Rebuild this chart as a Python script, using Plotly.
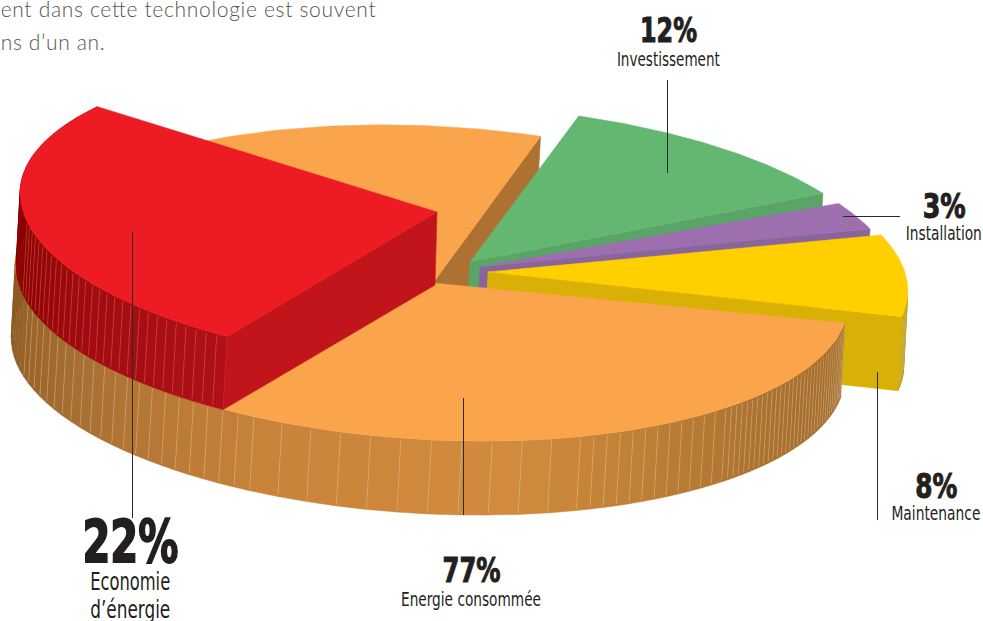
import json
import math
import plotly.graph_objects as go

# ---- data
categories = ["Investissement", "Installation", "Maintenance", "Energie consommée"]
shares = [12, 3, 8, 77]
saving_lines = ["Economie", "d’énergie"]
saving_share = 22
intro_lines = ["ent dans cette technologie est souvent", "ns d’un an."]

# ---- projection of the pie disc (pixel frame of the 983x621 page)
RX, SHEAR, RY = 422, 19, 157
START = -75.0
RED_END = 120.2
RED_STRETCH = 95.3 / 79.2
DROP_SKEW = 0.055          # walls lean slightly left as they go down

def pt(apex, th, r=1.0, drop=0, ry=None, left=1.0):
    c, s = math.cos(math.radians(th)), math.sin(math.radians(th))
    ry = r if ry is None else ry
    xf = left if c < 0 else 1.0
    return (apex[0] + r * xf * RX * c - drop * DROP_SKEW,
            apex[1] + ry * (SHEAR * c + RY * s) + drop)

def arc(apex, a, b, r=1.0, drop=0, n=80, ry=None, left=1.0):
    return [pt(apex, a + (b - a) * i / n, r, drop, ry, left) for i in range(n + 1)]

fig = go.Figure()

def poly(points, color, line=None):
    fig.add_trace(go.Scatter(
        x=[p[0] for p in points] + [points[0][0]],
        y=[p[1] for p in points] + [points[0][1]],
        mode="lines", fill="toself", fillcolor=color,
        line=dict(color=line or color, width=0.5),
        hoverinfo="skip", showlegend=False))

def lerp_col(stops, t):
    for (t0, c0), (t1, c1) in zip(stops, stops[1:]):
        if t <= t1:
            f = (t - t0) / (t1 - t0)
            return "rgb(%d,%d,%d)" % tuple(c0[i] + (c1[i] - c0[i]) * f for i in range(3))
    return "rgb(%d,%d,%d)" % stops[-1][1]

def wall(apex, a, b, r, depth, stops, seam, step, seam_op=0.45, seam_limit=999, ry=None, left=1.0):
    sx, sy = [], []
    t0 = a
    while t0 < b - 1e-6:
        t1 = min(b, t0 + step(t0))
        top = arc(apex, t0, t1, r, 0, 2, ry, left)
        bot = arc(apex, t1, t0, r, depth, 2, ry, left)
        poly(top + bot, lerp_col(stops, (t0 + t1) / 2))
        if t0 <= seam_limit:
            p, q = pt(apex, t0, r, 0, ry, left), pt(apex, t0, r, depth, ry, left)
            sx += [p[0], q[0], None]
            sy += [p[1] + 2, q[1] - 2, None]
        t0 = t1
    fig.add_trace(go.Scatter(x=sx, y=sy, mode="lines", opacity=seam_op,
                             line=dict(color=seam, width=0.7),
                             hoverinfo="skip", showlegend=False))

# sweep of each slice from the shares
ends = []
cur = START
for v in shares:
    ends.append((cur, cur + v * 3.6))
    cur += v * 3.6

A_GREEN, A_PURPLE, A_YELLOW, A_ORANGE = (470, 262), (480, 267), (488, 272), (433, 283)
R_GREEN, R_PURPLE, R_YELLOW, R_ORANGE, R_RED = 0.995, 0.99, 0.995, 0.985, 0.988
DEPTH = 74
NUDGE = [(0, -1.0), (0.8, 0), (0.5, 1.8), (0, 0)]   # small perspective corrections, degrees
ends = [(a + d[0], b + d[1]) for (a, b), d in zip(ends, NUDGE)]

# orange far cut face
o0, o1 = ends[3]
OY, OL = 1.0, 1.005
oa = pt(A_ORANGE, o1, R_ORANGE, 0, OY, OL)
ob = pt(A_ORANGE, o1, R_ORANGE, DEPTH, OY, OL)
poly([A_ORANGE, oa, ob, (A_ORANGE[0] - 4, A_ORANGE[1] + DEPTH)], "#ad7231")

def small_slice(apex, r, span, top, face):
    a, b = span
    e, f = pt(apex, b, r), pt(apex, b, r, DEPTH)
    poly([apex, e, f, (apex[0] - 4, apex[1] + DEPTH)], face)
    poly([apex] + arc(apex, a, b, r), top)

small_slice(A_GREEN, R_GREEN, ends[0], "#64b771", "#5ba468")
small_slice(A_PURPLE, R_PURPLE, ends[1], "#9d6fae", "#8a659b")

# yellow, with its thin outer wall
ya, yb = ends[2]
e, f = pt(A_YELLOW, yb, R_YELLOW), pt(A_YELLOW, yb, R_YELLOW, DEPTH)
wall(A_YELLOW, yb - 8, yb, R_YELLOW, DEPTH, [(yb - 8, (150, 120, 0)), (yb, (190, 155, 5))],
     "#f0e080", lambda t: 1.0)
poly([A_YELLOW, e, f, (A_YELLOW[0] - 4, A_YELLOW[1] + DEPTH)], "#d9b006")
poly([A_YELLOW] + arc(A_YELLOW, ya, yb, R_YELLOW), "#ffcf00")

# orange wall and top
def orange_step(t):
    if t < 45:
        return 1.1
    if t < 68:
        return 2.0
    if t < 112:
        return 4.2
    return 2.4

orange_stops = [(o0, (160, 106, 44)), (40, (172, 116, 48)), (80, (211, 140, 62)),
                (115, (200, 130, 58)), (150, (165, 110, 50)), (178, (140, 92, 36)), (215, (140, 90, 34))]
wall(A_ORANGE, o0, 195, R_ORANGE, DEPTH, orange_stops, "#f3d9b0", orange_step,
     seam_limit=168, ry=OY, left=OL)
poly([A_ORANGE] + arc(A_ORANGE, o0, o1, R_ORANGE, 0, 200, OY, OL), "#faa44b")

# raised red slice, sitting on the orange top
A_RED = (437, 212)
red_start = RED_END + saving_share * 3.6 * RED_STRETCH
red_depth = 73
re0, rb0 = pt(A_RED, RED_END, R_RED), pt(A_RED, RED_END, R_RED, red_depth)
red_stops = [(RED_END, (176, 17, 26)), (150, (160, 10, 18)), (172, (140, 0, 5)), (220, (138, 0, 5))]
wall(A_RED, RED_END, red_start, R_RED, red_depth, red_stops, "#e58a50", lambda t: 1.7,
     seam_op=0.5, seam_limit=171)
poly([A_RED, re0, rb0, (A_RED[0] - 2, A_RED[1] + red_depth)], "#c1141b")
poly([A_RED] + arc(A_RED, RED_END, red_start, R_RED), "#ed1c24")

# leader lines
leaders = [((667.5, 80), (667.5, 173)), ((843, 216.5), (900, 216.5)), ((877.5, 372), (877.5, 520)),
           ((463.5, 398), (463.5, 515)), ((132.5, 232), (132.5, 518))]
for p, q in leaders:
    fig.add_trace(go.Scatter(x=[p[0], q[0]], y=[p[1], q[1]], mode="lines",
                             line=dict(color="#2a2a2a", width=1),
                             hoverinfo="skip", showlegend=False))

BODY = "DejaVu Sans Condensed, DejaVu Sans"
INK = "#231f20"
fit_spacing, fit_glyphs, heavy = {}, {}, {}

def text(x, y, s, size, w, bold=False, family=BODY, color=INK, spacing=False, weight=None, stroke=0):
    fig.add_annotation(x=x, y=y, text=s, showarrow=False, xanchor="center", yanchor="middle",
                       font=dict(family=family, size=size, color=color,
                                 weight=weight or ("bold" if bold else "normal")))
    (fit_spacing if spacing else fit_glyphs)[s] = w
    if stroke:
        heavy[s] = stroke

text(668, 30, f"{shares[0]}%", 33, 57, True, stroke=1)
text(668, 59, categories[0], 20, 103)
text(944, 206, f"{shares[1]}%", 33, 43, True, stroke=1)
text(944, 233, categories[1], 20, 76)
text(936, 486, f"{shares[2]}%", 33, 42, True, stroke=1)
text(936, 513, categories[2], 20, 89)
text(471, 570, f"{shares[3]}%", 33, 58, True, stroke=1)
text(471, 599, categories[3], 20, 140)
text(130, 542, f"{saving_share}%", 58, 96, True, stroke=1.8)
text(130, 581, saving_lines[0], 25, 80)
text(130, 609, saving_lines[1], 25, 80)
text(187.5, 8, intro_lines[0], 21, 375, family="Lato", color="#555555", spacing=True, weight=300)
text(52, 41, intro_lines[1], 21, 104, family="Lato", color="#555555", spacing=True, weight=300)

fig.update_layout(
    width=983, height=621, margin=dict(l=0, r=0, t=0, b=0),
    paper_bgcolor="white", plot_bgcolor="white", showlegend=False,
    xaxis=dict(range=[0, 983], visible=False, fixedrange=True),
    yaxis=dict(range=[621, 0], visible=False, fixedrange=True),
)

post = """
document.documentElement.style.overflow = 'hidden';
document.body.style.margin = '0';
var G = %s, S = %s, H = %s;
function fit() {
  document.querySelectorAll('.annotation-text').forEach(function (t) {
    var s = t.textContent;
    if (G[s]) { t.setAttribute('textLength', G[s]); t.setAttribute('lengthAdjust', 'spacingAndGlyphs'); }
    if (S[s]) { t.setAttribute('textLength', S[s]); t.setAttribute('lengthAdjust', 'spacing'); }
    if (H[s]) { t.style.stroke = '#231f20'; t.style.strokeWidth = H[s] + 'px'; }
  });
}
fit(); setTimeout(fit, 100);
""" % (json.dumps(fit_glyphs, ensure_ascii=False), json.dumps(fit_spacing, ensure_ascii=False), json.dumps(heavy))

fig.write_html("out.html", config=dict(displayModeBar=False), post_script=post)
